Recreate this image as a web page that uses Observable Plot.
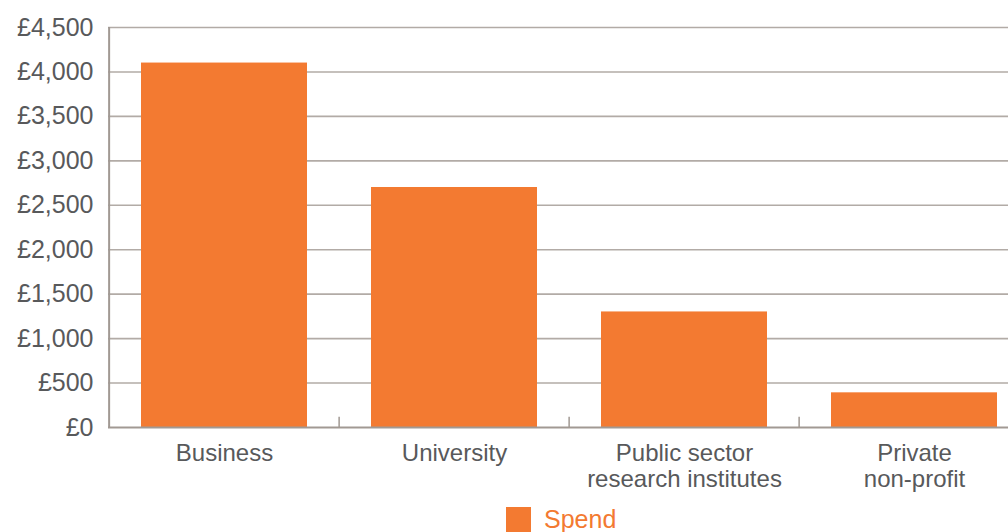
<!DOCTYPE html>
<html>
<head>
<meta charset="utf-8">
<script src="https://cdn.jsdelivr.net/npm/d3@7"></script>
<script src="https://cdn.jsdelivr.net/npm/@observablehq/plot@0.6"></script>
<style>
  html, body { margin: 0; padding: 0; background: #fff; overflow: hidden; width: 1008px; height: 532px; }
  #legend { position: relative; height: 32px; font-family: "Liberation Sans", Arial, Helvetica, sans-serif; }
  #legend .sw { position: absolute; left: 506px; top: 7px; width: 25px; height: 25px; background: #f37a31; }
  #legend .lb { position: absolute; left: 544px; top: 4px; font-size: 25px; line-height: 30px; color: #f37a31; }
</style>
</head>
<body>
<div id="chart"></div>
<div id="legend"><span class="sw"></span><span class="lb">Spend</span></div>
<script>
const categories = ["Business", "University", "Public sector research institutes", "Private non-profit"];
const categoryLabels = ["Business", "University", "Public sector\nresearch institutes", "Private\nnon-profit"];
const spend = [4100, 2700, 1300, 390];
const yTicks = [0, 500, 1000, 1500, 2000, 2500, 3000, 3500, 4000, 4500];

const data = categories.map((c, i) => ({category: c, value: spend[i]}));
const labelOf = new Map(categories.map((c, i) => [c, categoryLabels[i]]));

const xRange = [108, 1031];
const step = (xRange[1] - xRange[0]) / categories.length;

const chart = Plot.plot({
  width: 1008,
  height: 500,
  marginTop: 27,
  marginBottom: 73,
  marginLeft: 108,
  marginRight: 0,
  style: {fontFamily: '"Liberation Sans", Arial, Helvetica, sans-serif', fontSize: "25px", color: "#58595b", background: "#fff"},
  x: {domain: categories, range: xRange, paddingInner: 0.277, paddingOuter: 0.1385},
  y: {domain: [0, 4500]},
  marks: [
    Plot.ruleY(yTicks.filter(d => d > 0), {stroke: "#b2aba6", strokeWidth: 1.6}),
    Plot.barY(data, {x: "category", y: "value", fill: "#f37a31"}),
    Plot.ruleY([0], {stroke: "#a19993", strokeWidth: 2}),
    Plot.ruleX([categories[0]], {y1: 0, y2: 4500, dx: -step / 2, stroke: "#a19993", strokeWidth: 2}),
    Plot.ruleX(categories.slice(1), {y1: 0, y2: 115, dx: -step / 2, stroke: "#a19993", strokeWidth: 1.5}),
    Plot.axisY({ticks: yTicks, tickFormat: d => "£" + d3.format(",")(d), tickSize: 0, tickPadding: 15, fontSize: 25, label: null, fill: "#58595b"}),
    Plot.axisX({tickSize: 0, tickPadding: 14, fontSize: 24, lineHeight: 1.12, label: null, tickFormat: d => labelOf.get(d), fill: "#58595b"})
  ]
});
document.getElementById("chart").appendChild(chart);
</script>
</body>
</html>
